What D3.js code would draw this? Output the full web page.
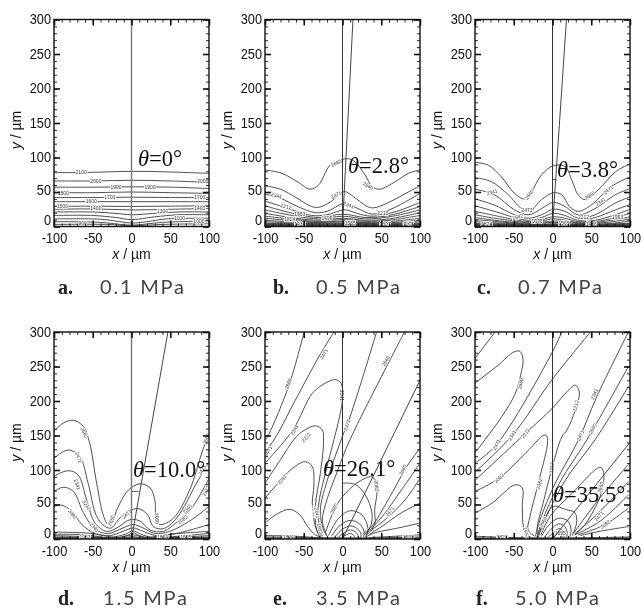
<!DOCTYPE html>
<html><head><meta charset="utf-8">
<script src="https://cdn.jsdelivr.net/npm/d3@7"></script>
<style>html,body{margin:0;background:#fff}svg{display:block;filter:blur(0.35px)}</style></head>
<body><svg id="c" width="643" height="608"></svg>
<script>
const xTicks=[-100,-50,0,50,100];
const yTicks=[0,50,100,150,200,250,300];
const captionLetters=["a.","b.","c.","d.","e.","f."];
const pressures=["0.1 MPa","0.5 MPa","0.7 MPa","1.5 MPa","3.5 MPa","5.0 MPa"];
const thetas=["0°","2.8°","3.8°","10.0°","26.1°","35.5°"];
const crystalLineEnds=[null,[13.5,300],[18,300],[47,300],[100,230],[100,140]];

const contoursA=[
[[-100,78],[-50,78.5],[0,80],[50,79],[100,77]],
[[-100,66],[-50,66],[0,67],[50,66],[100,64]],
[[-100,57],[-50,57],[0,57.5],[50,57],[100,55]],
[[-100,49],[-50,49],[0,50],[50,49],[100,48]],
[[-100,42],[-50,42],[0,42.5],[50,42],[100,42]],
[[-100,36],[-50,36],[0,36],[50,36],[100,36]],
[[-100,29],[-50,29.5],[0,29],[50,29.5],[100,30]],
[[-100,25],[-50,25.5],[0,24],[50,25],[100,26]],
[[-100,21],[-50,21],[-20,19],[0,17],[30,19],[60,21],[100,21]],
[[-100,16],[-50,16],[-20,13],[0,10],[30,14],[60,17],[100,17]],
[[-100,11],[-40,10.5],[-15,7],[0,5],[20,7],[45,11],[100,12]],
[[-100,7],[-40,6],[0,2],[40,6],[100,8]],
[[-100,3],[-30,3],[0,1],[40,3],[100,4]]
];
const contoursB=[
[[-100,82],[-78,77],[-57,64],[-42,54],[-31,60],[-16,89],[-1,97],[12,97],[29,75],[38,58],[48,54],[68,65],[85,77],[100,82]],
[[-100,59],[-80,54],[-60,42],[-40,29],[-30,28],[-15,36],[0,50],[5,50],[18,40],[32,29],[40,27],[60,35],[80,47],[100,59]],
[[-100,47],[-80,41],[-60,30],[-35,20],[-20,22],[0,33],[5,33],[20,26],[38,18],[60,24],[80,35],[100,48]],
[[-100,37],[-70,26],[-40,16],[-20,17],[0,24],[5,24],[25,17],[40,15],[70,22],[100,35]],
[[-100,30],[-60,18],[-30,13],[0,18],[30,13],[60,16],[100,29]],
[[-100,24],[-60,15],[-30,11],[0,15],[30,11],[60,14],[100,24]],
[[-100,19],[-60,12],[-30,9],[0,12],[30,9],[60,11],[100,20]],
[[-100,15],[-60,10],[-30,7.5],[0,10],[30,7.5],[60,9],[100,16]],
[[-100,12],[-60,8],[-30,6],[0,8],[30,6],[60,7],[100,12]],
[[-100,9],[-50,6],[0,6.5],[50,5],[100,9]],
[[-100,7],[-50,4.5],[0,5],[50,4],[100,7]],
[[-100,5],[-50,3.5],[0,4],[50,3],[100,5]],
[[-100,4],[0,3.2],[100,4]],
[[-100,3],[0,2.5],[100,3]],
[[-100,2.4],[0,2],[100,2.4]],
[[-100,1.8],[0,1.5],[100,2]],
[[-100,1.2],[100,1.2]],
[[-100,0.7],[100,0.7]]
];
const contoursC=[
[[-100,93],[-83,89],[-66,72],[-49,48],[-36,40],[-27,51],[-14,75],[1,88],[16,87],[25,67],[33,46],[42,39],[59,53],[81,79],[100,91]],
[[-100,71],[-79,65],[-57,46],[-40,26],[-29,23],[-14,39],[1,49],[12,46],[22,29],[33,22],[50,31],[76,58],[100,72]],
[[-100,54],[-75,46],[-49,24],[-31,17],[-14,26],[1,35],[16,29],[33,17],[55,26],[81,46],[100,55]],
[[-100,40],[-75,31],[-49,17],[-31,12],[-14,17],[1,25],[16,22],[33,12],[55,17],[81,34],[100,43]],
[[-100,30],[-75,22],[-49,13],[-31,9],[-14,13],[1,19],[16,16],[33,9],[55,13],[81,24],[100,32]],
[[-100,22],[-75,16],[-49,10],[-30,7],[-14,10],[1,14],[16,12],[33,7],[55,9],[81,17],[100,25]],
[[-100,17],[-75,12],[-49,8],[-30,5.5],[-14,8],[1,11],[16,9],[33,5.5],[55,7],[81,13],[100,19]],
[[-100,13],[-75,9],[-49,6],[-30,4.5],[-14,6],[1,8],[16,7],[33,4.5],[55,5.5],[81,10],[100,14]],
[[-100,10],[-60,6],[-30,3.5],[1,6],[33,3.5],[70,6],[100,11]],
[[-100,7],[-60,4.5],[-30,2.5],[1,4],[33,2.5],[70,4],[100,8]],
[[-100,5],[-50,3],[1,3],[50,2],[100,5]],
[[-100,4],[0,2.6],[100,4]],
[[-100,3],[0,2],[100,3]],
[[-100,2.2],[100,2.2]],
[[-100,1.6],[100,1.6]],
[[-100,1],[100,1]],
[[-100,0.6],[100,0.6]],
[[0,68],[5,68]]
];
const contoursD=[
[[-100,156],[-88,168],[-75,172],[-62,163],[-54,139],[-45,81],[-36,33],[-30,21],[-25,23],[-19,42],[-4,71],[11,80],[24,74],[30,57],[32,28],[37,21],[54,30],[75,71],[92,129],[100,151]],
[[-100,117],[-82,129],[-67,120],[-56,81],[-45,33],[-34,18],[-26,16],[-17,28],[-4,40],[9,44],[21,35],[28,18],[41,15],[58,30],[84,81],[100,112]],
[[-100,91],[-82,99],[-69,93],[-58,57],[-47,23],[-32,11],[-19,16],[-2,28],[11,26],[24,13],[41,11],[62,28],[79,47],[100,88]],
[[-100,69],[-88,75],[-75,69],[-62,38],[-47,14],[-30,8],[-11,16],[2,21],[15,16],[30,8],[49,11],[75,26],[100,47]],
[[-100,47],[-90,49],[-77,40],[-64,21],[-47,8],[-28,5],[-11,11],[2,16],[15,11],[32,5],[58,8],[100,21]],
[[-100,10],[-50,8],[-25,3],[-8,7],[2,12],[12,7],[25,3],[50,7],[100,11]],
[[-100,7],[-60,6],[-25,1.5],[-6,5],[2,9],[10,5],[25,1.5],[60,4],[100,8]],
[[-100,5],[-50,3],[-20,1],[2,6],[20,1],[50,2],[100,5]],
[[-100,3],[-50,2],[-15,1],[2,3.5],[15,1],[100,3]],
[[-100,2],[0,1.5],[100,2]],
[[-100,1.4],[100,1.4]],
[[-100,0.8],[100,0.8]],
[[0,69],[9,69]]
];
const contoursE=[
[[-100,143],[-95,152],[-69,223],[-50,297],[-49,300]],
[[-100,125],[-85,150],[-61,201],[-29,267],[-11,300]],
[[-100,110],[-64,158],[-39,211],[-22,226],[-9,231],[-1.5,225],[0,205],[-2,187],[-11,144],[-22,96],[-31,47],[-29,13],[-26,4]],
[[-100,81],[-80,115],[-62,145],[-50,157],[-35,164],[-26,158],[-24.5,140],[-28.6,95],[-35,47],[-33,13],[-28,4]],
[[-100,59],[-87,76],[-65,102],[-48,112],[-39,105],[-37,76],[-39,52],[-35,18],[-30,4]],
[[-100,23],[-85,36],[-68,43],[-55,35],[-45,18],[-35,6],[-25,2]],
[[44,300],[9.7,177],[-1,146],[-18,91],[-28.6,42],[-24.5,13],[-20,4]],
[[80,300],[9.7,144],[-6,100],[-22,50],[-26,25],[-20,5]],
[[37,12],[42,23],[41.5,42],[44.5,66],[44.5,79],[38,90],[21,83],[8,71],[-6,52],[-16,28],[-22,9]],
[[0.6,81],[16.5,79],[29.4,64],[38,38],[37,21],[31,8]],
[[-18,5],[-5,30],[10,41],[25,35],[33,15],[30,3]],
[[-14,4],[-3,20],[10,27],[22,22],[28,10],[27,3]],
[[-10,3],[0,14],[10,19],[19,15],[24,7],[23,2]],
[[-6,2],[2,9],[10,13],[17,10],[20,5],[19,1]],
[[-2,2],[5,6],[10,8],[14,6],[16,2]],
[[99,130],[83,105],[59,57],[37.6,18],[27,8]],
[[100,110],[76,71],[55,38],[38,16],[28,6]],
[[100,88],[81,57],[57,30],[38,13],[30,5]],
[[100,52],[76,38],[50.5,18],[35,7]],
[[100,23],[72,16],[42,9],[32,4]],
[[100,6],[60,3.5],[35,2]],
[[-100,5],[-60,4],[-30,1.5]],
[[-100,3],[-50,2],[0,1],[50,1.5],[100,3]],
[[-100,1.5],[100,1.5]],
[[-100,0.8],[100,0.8]]
];
const contoursF=[
[[-74,300],[-100,262]],
[[-100,226],[-70,252],[-50,271],[-42,272],[-38,260],[-41,238],[-48,211],[-65,178],[-87,144],[-100,125]],
[[12,300],[-0.6,270],[-72,137],[-100,110]],
[[49,300],[-0.6,231],[-52,150],[-100,97]],
[[-100,85],[-35,153],[-0.6,189],[20,215],[29.4,223],[34.6,213],[29.4,187],[18.7,158],[12,148],[-0.6,103],[-11,57],[-20,13],[-18,3]],
[[-100,69],[-69,88],[-30,130],[-12,150],[-7.8,150],[-6.5,139],[-16,91],[-29,33],[-31.5,13],[-23,4]],
[[-100,37.6],[-78,52],[-48,78.6],[-39,74],[-39,47],[-37,16],[-30,3]],
[[98,300],[57,206],[33.8,144],[3.6,81],[-16,28],[-22,4]],
[[98,250],[44.5,144],[10,83],[-14,24],[-20,3]],
[[98,221],[55,144],[16.5,85],[-12,22],[-18,3]],
[[-15,6],[-3,33],[25,66],[61.7,104],[66,96],[64,71],[57,50],[42,21],[29,6]],
[[-18.5,6],[-10,28],[0,47],[18,42.5],[29,38],[31,23],[25,4]],
[[-14,4],[-5,20],[8,30],[20,26],[24,12],[22,3]],
[[-10,3],[-2,14],[8,22],[16,18],[19,8],[18,2]],
[[-6,2],[2,10],[8,15],[13,12],[15,5],[14,1]],
[[-2,2],[5,6],[9,8],[12,5],[12,2]],
[[98,108],[60,58],[27,8]],
[[98,83],[55,33],[28,7]],
[[98,64],[61.7,26],[29,6]],
[[98,45],[68,21],[33,6]],
[[98,18],[60,11],[36,5]],
[[-100,4],[-50,2],[0,1],[100,3]],
[[-100,1.5],[100,1.5]],
[[-100,0.8],[100,0.8]]
];
const labelsA=[[-65,78,"2100",0],[-46,66,"2000",0],[-20,57,"1900",0],[24,57,"1900",0],[92,65,"2000",0],[-88,48,"1800",0],[-28,42,"1700",0],[88,42,"1700",0],[-52,36,"1600",0],[-89,30,"1500",0],[-46,26,"1400",0],[88,26,"1400",0],[40,22,"1300",0],[62,12,"1100",0],[87,8,"1000",0],[-63,5,"900",0]];
const labelsB=[[-8,92,"2660",-25],[33,59,"2660",30],[-8,46,"2471",-25],[-85,45,"2341",15],[8,31,"2341",20],[-73,29,"2212",15],[52,19,"2212",0],[-55,18,"1953",0],[-68,11,"1824",0],[-20,12,"1695",0],[10,4,"1565",0],[-55,3,"1436",0],[55,3,"1307",0],[85,3,"1177",0]];
const labelsC=[[-30,46,"2660",-55],[48,45,"2660",-35],[-33,24,"2471",0],[-78,50,"2341",-15],[62,36,"2341",-35],[72,53,"2471",-40],[40,13,"2212",0],[-45,14,"2082",-15],[84,14,"1953",0],[-85,3,"1824",0],[-20,7,"1695",0],[15,4,"1565",0],[50,3,"1436",0]];
const labelsD=[[-61,154,"2660",65],[-68,118,"2471",70],[-70,79,"2341",72],[-58,49,"2212",55],[-76,36,"2082",50],[-48,17,"2341",50],[-26,27,"2660",-65],[-6,36,"2471",-45],[33,30,"2660",85],[66,28,"2082",-40],[72,44,"2341",-50],[96,70,"2212",-65],[91,100,"2471",-65],[97,145,"2660",-70],[-60,3,"1953",0],[40,3,"1824",0],[70,3,"1695",0]];
const labelsE=[[-70,225,"2660",-72],[-24,268,"2471",-62],[-96,127,"2471",-62],[-62,158,"2341",-60],[-47,147,"2212",-50],[-78,86,"2082",-50],[-1,208,"2341",90],[6,165,"2471",-72],[56,258,"2660",-60],[44,77,"2082",85],[-11,44,"2660",-62],[78,100,"2660",-62],[61,40,"2471",-50],[-36,40,"2212",80],[-33,38,"2341",80],[-29,15,"1953",75],[-70,2,"1824",0],[85,2,"1695",0]];
const labelsF=[[-41,225,"2660",-78],[-72,137,"2471",-60],[-52,150,"2341",-60],[-35,153,"2212",-50],[-69,88,"2082",-45],[30,193,"2212",-75],[54,210,"2341",-65],[36,150,"2471",-65],[52,160,"2660",-62],[-17,80,"2082",-75],[-1,103,"2212",-85],[-12,25,"2660",-60],[62,75,"2660",-75],[60,33,"2471",-50],[68,21,"2082",-35],[-34,9,"1953",75],[-65,2,"1824",0],[10,8,"1695",0]];

const allContours=[contoursA,contoursB,contoursC,contoursD,contoursE,contoursF];
const allLabels=[labelsA,labelsB,labelsC,labelsD,labelsE,labelsF];

// layout
const colLeft=[54,265,475], plotW=155, plotH=207;
const rowTop=[19.5,332];
const captionBase=[294,605];
const captionX=[[58,100],[273,316],[477,518],[58,103],[273,316],[476,515]];
const thetaPos=[[138,166],[348,173],[557,177],[133,477],[323,476],[553,502]];
const FONT="'Liberation Sans',Arial,sans-serif";
const svg=d3.select("#c");
const narrow=sel=>sel.each(function(){const l=this.getComputedTextLength();
  d3.select(this).attr("textLength",l*0.91).attr("lengthAdjust","spacingAndGlyphs");});

allContours.forEach((contours,i)=>{
  const col=i%3,row=i<3?0:1;
  const L=colLeft[col],T=rowTop[row];
  const x=d3.scaleLinear().domain([-100,100]).range([L,L+plotW]);
  const y=d3.scaleLinear().domain([0,300]).range([T+plotH,T]);
  const g=svg.append("g");
  const cid="clip"+i;
  g.append("clipPath").attr("id",cid).append("rect").attr("x",L).attr("y",T).attr("width",plotW).attr("height",plotH);
  const plot=g.append("g").attr("clip-path",`url(#${cid})`);
  const line=d3.line().x(d=>x(d[0])).y(d=>y(d[1])).curve(d3.curveCatmullRom.alpha(0.5));
  plot.selectAll("path.c").data(contours).join("path").attr("class","c")
    .attr("d",line).attr("fill","none").attr("stroke","#3c3c3c").attr("stroke-width",0.9);
  plot.selectAll("text").data(allLabels[i]).join("text")
    .attr("transform",d=>`translate(${x(d[0])},${y(d[1])}) rotate(${d[3]})`)
    .attr("text-anchor","middle").attr("dy","0.35em").attr("opacity",0.99)
    .attr("font-family",FONT).attr("font-size",5).attr("fill","#333")
    .attr("stroke","#fff").attr("stroke-width",1.6).attr("paint-order","stroke").text(d=>d[2]);
  // reference vertical and inclined lines
  plot.append("line").attr("x1",x(0)).attr("x2",x(0)).attr("y1",y(0)).attr("y2",y(300))
    .attr("stroke",(i==0||i==3)?"#777":"#333").attr("stroke-width",(i==0||i==3)?1.4:1);
  if(crystalLineEnds[i]){
    const e=crystalLineEnds[i];
    plot.append("line").attr("x1",x(0)).attr("y1",y(0)).attr("x2",x(e[0])).attr("y2",y(e[1]))
      .attr("stroke","#444").attr("stroke-width",1);
  }
  // frame
  g.append("rect").attr("x",L).attr("y",T).attr("width",plotW).attr("height",plotH)
    .attr("fill","none").attr("stroke","#111").attr("stroke-width",1.4);
  // axes
  const xMinor=d3.range(-100,101,10), yMinor=d3.range(0,301,10);
  const style=(a,w)=>{a.select(".domain").remove();a.selectAll(".tick line").attr("stroke","#111").attr("stroke-width",w);};
  const place=(gen,tx,ty,w)=>{const a=g.append("g").attr("transform",`translate(${tx},${ty})`).call(gen);style(a,w);return a;};
  place(d3.axisBottom(x).tickValues(xMinor).tickSize(-3).tickFormat(""),0,T+plotH,0.9);
  place(d3.axisTop(x).tickValues(xMinor).tickSize(-3).tickFormat(""),0,T,0.9);
  place(d3.axisLeft(y).tickValues(yMinor).tickSize(-3).tickFormat(""),L,0,0.9);
  place(d3.axisRight(y).tickValues(yMinor).tickSize(-3).tickFormat(""),L+plotW,0,0.9);
  place(d3.axisTop(x).tickValues(xTicks).tickSize(-6).tickFormat(""),0,T,1.6);
  place(d3.axisRight(y).tickValues(yTicks).tickSize(-6).tickFormat(""),L+plotW,0,1.6);
  const ax=place(d3.axisBottom(x).tickValues(xTicks).tickSize(-6).tickPadding(7).tickFormat(d=>String(d)),0,T+plotH,1.6);
  const ay=place(d3.axisLeft(y).tickValues(yTicks).tickSize(-6).tickPadding(3),L,0,1.6);
  [ax,ay].forEach(a=>a.selectAll("text").attr("font-family",FONT).attr("font-size",14).attr("fill","#111").call(narrow));
  ay.selectAll("text").attr("x",-3).attr("y",d=>d===0?-6:(d===50?-2:0));
  // axis titles
  const xt=g.append("text").attr("x",x(0)).attr("y",T+plotH+32.5).attr("text-anchor","middle")
    .attr("font-family",FONT).attr("font-size",14).attr("fill","#111");
  xt.append("tspan").attr("font-style","italic").text("x");xt.append("tspan").text(" / µm");
  const yt=g.append("text").attr("transform",`translate(${L-33},${y(150)+7}) rotate(-90)`).attr("text-anchor","middle")
    .attr("font-family",FONT).attr("font-size",14).attr("fill","#111");
  yt.append("tspan").attr("font-style","italic").text("y");yt.append("tspan").text(" / µm");
  // theta label
  const th=g.append("text").attr("x",thetaPos[i][0]).attr("y",thetaPos[i][1])
    .attr("font-family","'Liberation Serif',serif").attr("font-size",22.5).attr("fill","#111");
  th.append("tspan").attr("font-style","italic").text("θ");th.append("tspan").text("="+thetas[i]);
  // caption
  g.append("text").attr("x",captionX[i][0]).attr("y",captionBase[row])
    .attr("font-family","'Liberation Serif',serif").attr("font-weight","bold").attr("font-size",20).attr("fill","#222").text(captionLetters[i]);
  g.append("text").attr("x",captionX[i][1]).attr("y",captionBase[row])
    .attr("font-family","Lato,'Open Sans',sans-serif").attr("font-size",20).attr("letter-spacing",1.8).attr("fill","#444").text(pressures[i]);
});
</script></body></html>
